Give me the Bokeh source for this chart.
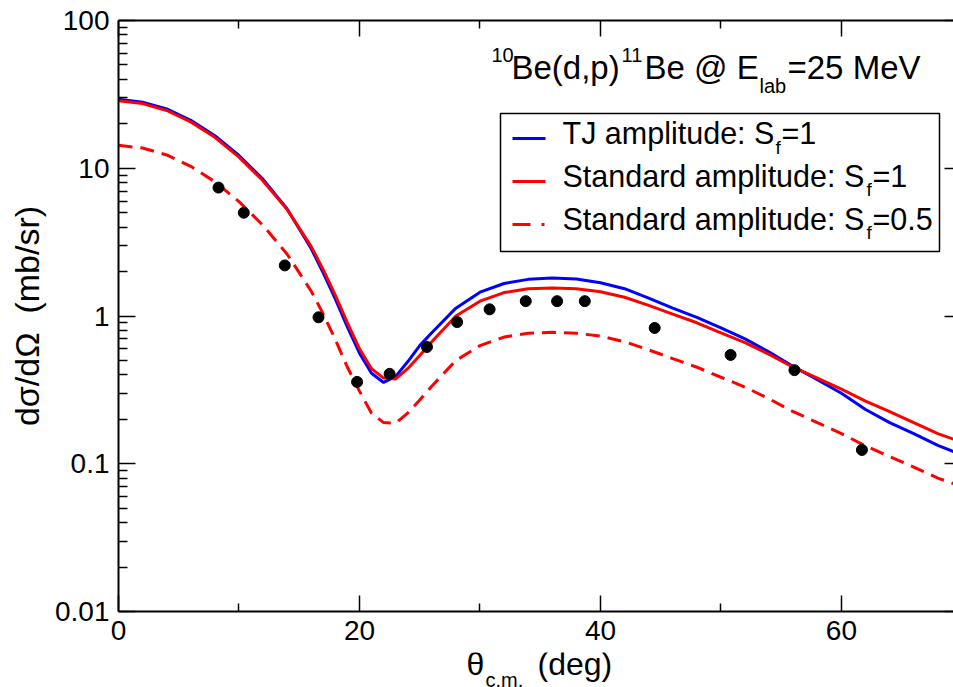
from bokeh.plotting import figure
from bokeh.layouts import column
from bokeh.models import FixedTicker, LinearAxis, LogAxis, Label, Range1d
from bokeh.embed import file_html
from bokeh.resources import INLINE

# ---------------- data ----------------
theta = [0, 2, 4, 6, 8, 10, 12, 14, 16, 17, 18, 19, 20, 21, 22, 23, 24, 25, 26,
         28, 30, 32, 34, 36, 38, 40, 42, 44, 46, 48, 50, 52, 54, 56, 58, 60, 62,
         64, 66, 68, 70]

tj_sf1 = [29.3, 28.0, 25.2, 21.1, 16.6, 12.2, 8.4, 5.3, 2.85, 1.95, 1.3, 0.84,
          0.56, 0.41, 0.355, 0.39, 0.49, 0.63, 0.77,
          1.13, 1.45, 1.66, 1.77, 1.81, 1.78, 1.68, 1.53, 1.32, 1.13, 0.98,
          0.83, 0.70, 0.57, 0.455, 0.37, 0.30, 0.233, 0.19, 0.16, 0.133, 0.115]

std_sf1 = [28.6, 27.4, 24.6, 20.6, 16.2, 11.9, 8.2, 5.25, 2.95, 2.05, 1.38, 0.9,
           0.6, 0.44, 0.38, 0.375, 0.44, 0.54, 0.67,
           1.0, 1.26, 1.44, 1.53, 1.55, 1.53, 1.46, 1.34, 1.18, 1.03, 0.9,
           0.77, 0.66, 0.55, 0.45, 0.38, 0.32, 0.265, 0.225, 0.19, 0.16, 0.14]

std_sf05 = [14.3, 13.7, 12.3, 10.3, 8.1, 5.95, 4.1, 2.62, 1.47, 1.03, 0.69, 0.45,
            0.31, 0.22, 0.19, 0.188, 0.22, 0.27, 0.335,
            0.5, 0.63, 0.72, 0.765, 0.775, 0.765, 0.73, 0.67, 0.59, 0.515, 0.45,
            0.385, 0.33, 0.275, 0.225, 0.19, 0.16, 0.132, 0.112, 0.095, 0.08, 0.07]

exp_theta = [8.3, 10.4, 13.8, 16.6, 19.8, 22.5, 25.6, 28.1, 30.8, 33.8, 36.4,
             38.7, 44.5, 50.8, 56.1, 61.7]
exp_xs = [7.4, 5.0, 2.2, 0.98, 0.358, 0.406, 0.617, 0.91, 1.11, 1.26, 1.26,
          1.26, 0.83, 0.545, 0.43, 0.124]

x_major = [0, 20, 40, 60]
x_minor = [10, 30, 50]
y_major = [0.01, 0.1, 1, 10, 100]
y_major_labels = ["0.01", "0.1", "1", "10", "100"]
y_minor = [k * 10.0 ** e for e in (-2, -1, 0, 1) for k in range(2, 10)]

legend_labels = ["TJ amplitude: S", "Standard amplitude: S", "Standard amplitude: S"]
legend_values = ["=1", "=1", "=0.5"]

# ---------------- layout ----------------
W, H = 953, 687
MAIN_H = 652                 # main figure; a thin strip below carries the x label
FL, FR, FT, FB = 118, 953, 20, 611
X0, X1 = 0.0, 69.3
FONT = "Liberation Sans"


def dx(px):
    return X0 + (px - FL) * (X1 - X0) / (FR - FL)


def dy(py):
    return 10 ** (2 - 4 * (py - FT) / (FB - FT))


p = figure(width=W, height=MAIN_H, x_range=Range1d(X0, X1), y_range=Range1d(0.01, 100),
           y_axis_type="log", output_backend="svg", toolbar_location=None,
           min_border_left=FL, min_border_right=W - FR, min_border_top=FT,
           min_border_bottom=MAIN_H - FB)
p.grid.visible = False
p.outline_line_color = None
p.background_fill_color = "white"
p.border_fill_color = "white"


def style_axis(ax):
    ax.axis_line_color = "black"
    ax.major_tick_line_color = "black"
    ax.minor_tick_line_color = "black"
    ax.major_label_text_color = "black"
    ax.axis_label_text_color = "black"
    ax.major_tick_line_width = 1.5
    ax.minor_tick_line_width = 1.5
    ax.major_tick_out = 0
    ax.minor_tick_out = 0


# bottom axis
xa = p.xaxis[0]
style_axis(xa)
xa.ticker = FixedTicker(ticks=x_major, minor_ticks=x_minor)
xa.major_tick_in = 16
xa.minor_tick_in = 8
xa.axis_line_width = 2
xa.major_label_text_font = FONT
xa.major_label_text_font_size = "28px"
xa.major_label_standoff = 9

# left axis
ya = p.yaxis[0]
style_axis(ya)
ya.ticker = FixedTicker(ticks=y_major, minor_ticks=y_minor)
ya.major_label_overrides = {t: s for t, s in zip(y_major, y_major_labels)}
ya.major_tick_in = 17
ya.minor_tick_in = 9
ya.axis_line_width = 2
ya.major_label_text_font = FONT
ya.major_label_text_font_size = "28px"
ya.major_label_standoff = 9
ya.axis_label = "dσ/dΩ\u00a0\u00a0(mb/sr)"
ya.axis_label_text_font = FONT
ya.axis_label_text_font_size = "34px"
ya.axis_label_text_font_style = "normal"
ya.axis_label_standoff = 6

# top axis (no labels)
ta = LinearAxis(ticker=FixedTicker(ticks=x_major, minor_ticks=x_minor),
                major_label_overrides={t: "" for t in x_major},
                major_label_standoff=0, major_tick_in=16, minor_tick_in=8,
                axis_line_width=2)
style_axis(ta)
p.add_layout(ta, "above")

# right axis (frame edge lies just outside the picture)
ra = LogAxis(ticker=FixedTicker(ticks=y_major, minor_ticks=[]),
             major_label_overrides={t: "" for t in y_major},
             major_label_standoff=0, major_tick_in=9, minor_tick_in=0)
style_axis(ra)
ra.axis_line_color = None
p.add_layout(ra, "right")

# ---------------- curves ----------------
p.line(theta, tj_sf1, line_color="#0000ff", line_width=3)
p.line(theta, std_sf1, line_color="#ff0000", line_width=3)
p.line(theta, std_sf05, line_color="#ff0000", line_width=3, line_dash="14 8")
p.scatter(exp_theta, exp_xs, size=11, fill_color="black", line_color="black")

# ---------------- legend (drawn by hand for the subscripts) ----------------
p.quad(left=[dx(500)], right=[dx(939)], top=[dy(113)], bottom=[dy(251)],
       fill_color="white", line_color="black", line_width=1.5)
row_mid = [138, 181, 224]
text_mid = [132.5, 175, 218]
styles = [("#0000ff", "solid"), ("#ff0000", "solid"), ("#ff0000", "18 11 3 30")]
sub_x = [775, 866, 866]


def lab(text, px, py, size):
    p.add_layout(Label(x=dx(px), y=dy(py), text=text, text_font=FONT,
                       text_font_size=f"{size}px", text_baseline="middle",
                       text_align="left", text_color="black"))


for i in range(3):
    col, dash = styles[i]
    p.segment(x0=[dx(512)], x1=[dx(545)], y0=[dy(row_mid[i])], y1=[dy(row_mid[i])],
              line_color=col, line_width=3, line_dash=dash)
    lab(legend_labels[i], 562, text_mid[i], 30.5)
    lab("f", sub_x[i], text_mid[i] + 14, 19)
    lab(legend_values[i], sub_x[i] + 6, text_mid[i], 30.5)

# title annotation
lab("10", 491, 54, 20)
lab("Be(d,p)", 511, 66.5, 33)
lab("11", 621, 54, 20)
lab("Be @ E", 644, 66.5, 33)
lab("lab", 759, 85, 20)
lab("=25 MeV", 787, 66.5, 33)

# ---------------- strip below for the x-axis title (with subscript) ----------------
SH = H - MAIN_H
q = figure(width=W, height=SH, x_range=Range1d(X0, X1), y_range=Range1d(SH, 0),
           output_backend="svg", toolbar_location=None,
           min_border_left=FL, min_border_right=W - FR, min_border_top=0,
           min_border_bottom=0, x_axis_location=None, y_axis_location=None)
q.grid.visible = False
q.outline_line_color = None
q.background_fill_color = "white"
q.border_fill_color = "white"


def qlab(text, px, py, size):
    q.add_layout(Label(x=dx(px), y=py - MAIN_H, text=text, text_font=FONT,
                       text_font_size=f"{size}px", text_baseline="middle",
                       text_align="left", text_color="black"))


qlab("θ", 466, 663.5, 32)
qlab("c.m.", 485, 679.5, 20)
qlab("(deg)", 537, 663.5, 32)

open("out.html", "w").write(file_html(column(p, q, spacing=0), INLINE))
